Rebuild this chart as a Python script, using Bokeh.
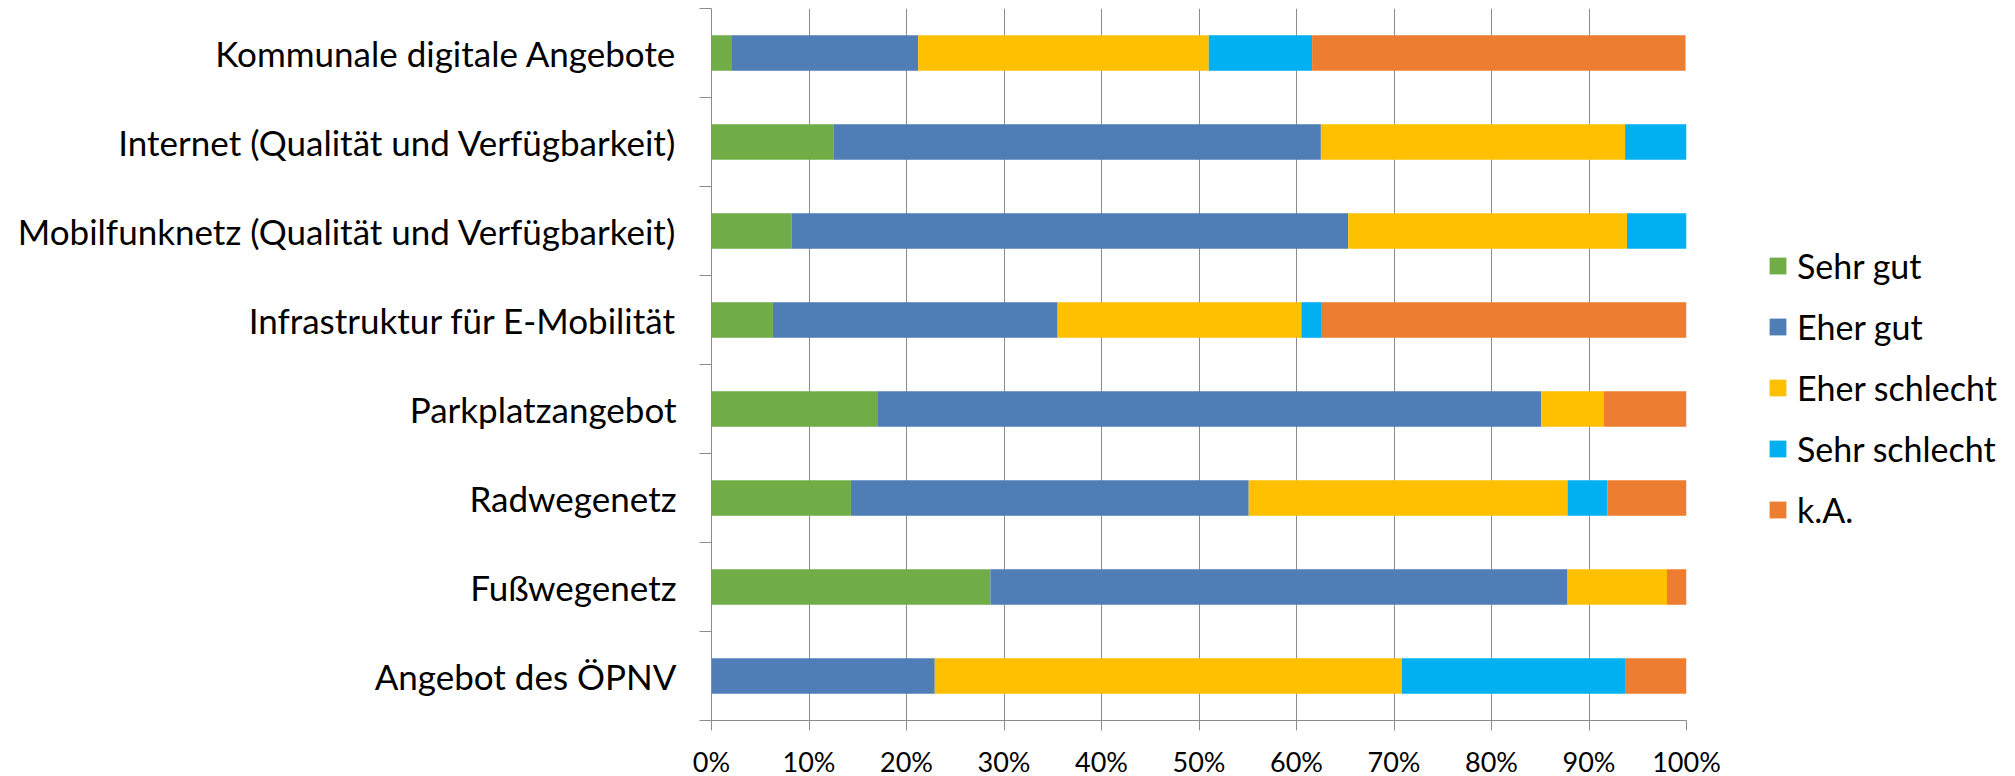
from bokeh.plotting import figure
from bokeh.models import (ColumnDataSource, FixedTicker, CustomJSTickFormatter,
                          PrintfTickFormatter, Range1d, Legend)
from bokeh.embed import file_html
from bokeh.resources import INLINE

# categories, bottom to top
categories = [
    "Angebot des ÖPNV",
    "Fußwegenetz",
    "Radwegenetz",
    "Parkplatzangebot",
    "Infrastruktur für E-Mobilität",
    "Mobilfunknetz (Qualität und Verfügbarkeit)",
    "Internet (Qualität und Verfügbarkeit)",
    "Kommunale digitale Angebote",
]
series_names = ["Sehr gut", "Eher gut", "Eher schlecht", "Sehr schlecht", "k.A."]
sehr_gut      = [0.0, 28.6, 14.3, 17.0, 6.3, 8.2, 12.5, 2.1]
eher_gut      = [22.9, 59.2, 40.8, 68.1, 29.2, 57.1, 50.0, 19.1]
eher_schlecht = [47.9, 10.2, 32.7, 6.4, 25.0, 28.6, 31.2, 29.8]
sehr_schlecht = [22.9, 0.0, 4.1, 0.0, 2.1, 6.1, 6.3, 10.6]
k_a           = [6.3, 2.0, 8.2, 8.5, 37.5, 0.0, 0.0, 38.3]
x_ticks = [0, 10, 20, 30, 40, 50, 60, 70, 80, 90, 100]

colors = ["#70AD47", "#4F7DB5", "#FFC000", "#00B0F0", "#ED7D31"]
FONT = "Lato"
GRID = "#8c8c8c"

n = len(categories)
data = {"y": [i + 0.5 for i in range(n)]}
for name, vals in zip(series_names, [sehr_gut, eher_gut, eher_schlecht, sehr_schlecht, k_a]):
    data[name] = vals
source = ColumnDataSource(data)

p = figure(output_backend="svg", toolbar_location=None,
           frame_width=975, frame_height=712,
           min_border_left=711, min_border_right=305,
           min_border_top=8, min_border_bottom=56,
           x_range=Range1d(0, 100), y_range=Range1d(0, n))
p.outline_line_color = None

renderers = p.hbar_stack(series_names, y="y", height=0.4, color=colors,
                         source=source, line_color=None)

# x axis
p.xaxis.ticker = FixedTicker(ticks=x_ticks)
p.xaxis.formatter = PrintfTickFormatter(format="%d%%")
p.xaxis.major_label_text_font = FONT
p.xaxis.major_label_text_font_size = "27px"
p.xaxis.major_label_text_color = "#000000"
p.xaxis.major_tick_out = 10
p.xaxis.major_tick_in = 0
p.xaxis.minor_tick_line_color = None
p.xaxis.major_label_standoff = 14
p.xaxis.axis_line_color = GRID
p.xaxis.major_tick_line_color = GRID

# y axis: labels at centres, ticks at category boundaries
p.yaxis.ticker = FixedTicker(ticks=[i + 0.5 for i in range(n)],
                             minor_ticks=list(range(n + 1)))
p.yaxis.formatter = CustomJSTickFormatter(args=dict(labels=categories),
                                          code="return labels[Math.floor(tick)];")
p.yaxis.major_label_text_font = FONT
p.yaxis.major_label_text_font_size = "35px"
p.yaxis.major_label_text_color = "#000000"
p.yaxis.major_tick_out = 0
p.yaxis.major_tick_in = 0
p.yaxis.major_tick_line_color = None
p.yaxis.minor_tick_out = 12
p.yaxis.minor_tick_in = 0
p.yaxis.minor_tick_line_color = GRID
p.yaxis.major_label_standoff = 23
p.yaxis.axis_line_color = GRID

p.xgrid.ticker = FixedTicker(ticks=x_ticks)
p.xgrid.grid_line_color = GRID
p.ygrid.grid_line_color = None

legend = Legend(items=[(name, [r]) for name, r in zip(series_names, renderers)],
                location=(81, 190))
legend.border_line_color = None
legend.background_fill_alpha = 0
legend.padding = 0
legend.margin = 0
legend.spacing = 20
legend.glyph_width = 21
legend.glyph_height = 21
legend.label_standoff = 9
legend.label_text_font = FONT
legend.label_text_font_size = "34px"
legend.label_text_color = "#000000"
p.add_layout(legend, "right")

open("out.html", "w").write(file_html(p, INLINE))
